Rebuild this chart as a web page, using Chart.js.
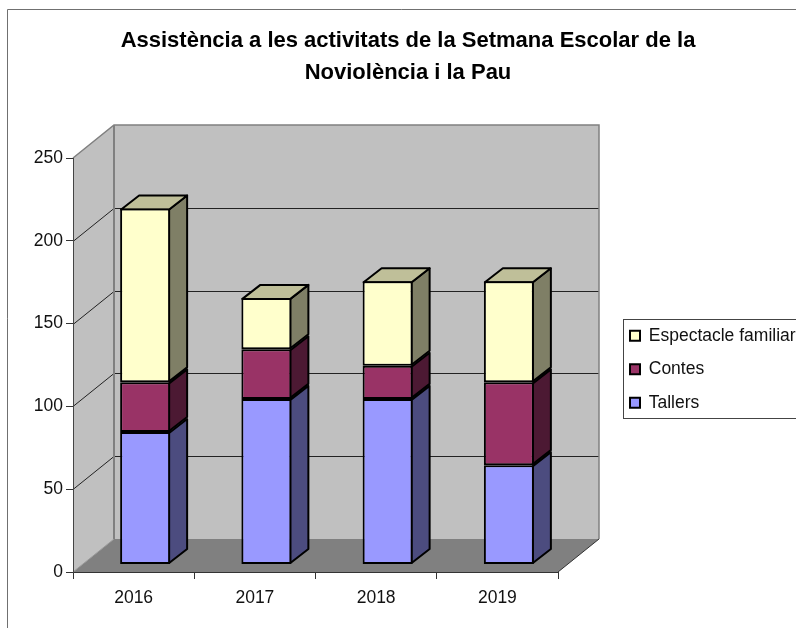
<!DOCTYPE html>
<html><head><meta charset="utf-8">
<style>html,body{margin:0;padding:0;background:#fff}canvas{display:block}</style>
<script src="https://cdn.jsdelivr.net/npm/chart.js@4"></script>
</head><body><canvas id="c" width="796" height="628"></canvas>
<script>
const years = ['2016','2017','2018','2019'];
const tallers = [80,100,100,60];
const contes = [30,30,20,50];
const espectacle = [105,31,51,61];
const titleLines = ['Assistència a les activitats de la Setmana Escolar de la','Noviolència i la Pau'];
const FONT = '"Liberation Sans", Arial, sans-serif';
const DEPTH = {x:41, y:-33};
const BAR = {x:11.5, y:-7.5, dx:18, dy:-14};
const sideColors = ['#4C4C7F','#4C1933','#7F7F66'];
const topColor = '#BFBF99';

function poly(ctx, pts, fill, stroke, lw){
  ctx.beginPath();
  pts.forEach((p,i)=> i?ctx.lineTo(p[0],p[1]):ctx.moveTo(p[0],p[1]));
  ctx.closePath();
  if(fill){ctx.fillStyle=fill;ctx.fill();}
  if(stroke){ctx.strokeStyle=stroke;ctx.lineWidth=lw;ctx.stroke();}
}
function line(ctx, pts, color, lw){
  ctx.beginPath();
  pts.forEach((p,i)=> i?ctx.lineTo(p[0],p[1]):ctx.moveTo(p[0],p[1]));
  ctx.strokeStyle=color;ctx.lineWidth=lw;ctx.stroke();
}
const scene = {
  id:'scene',
  afterLayout(chart){
    const t = chart.titleBlock; t.left = 20; t.right = 796;
    const l = chart.legend; const w=l.width,h=l.height;
    l.left = 614; l.top = 311; l.right = 614+w; l.bottom = 311+h;
  },
  beforeDraw(chart){
    const {ctx, chartArea:a, scales:{y}} = chart;
    ctx.save();
    ctx.fillStyle='#fff';ctx.fillRect(0,0,796,628);
    line(ctx,[[7.5,628],[7.5,9.5],[796,9.5]],'#707070',1);
    const L=a.left,R=a.right,T=y.getPixelForValue(250),B=y.getPixelForValue(0);
    const dx=DEPTH.x,dy=DEPTH.y;
    // walls
    poly(ctx,[[L,T],[L+dx,T+dy],[L+dx,B+dy],[L,B]],'#c0c0c0');
    poly(ctx,[[L+dx,T+dy],[R+dx,T+dy],[R+dx,B+dy],[L+dx,B+dy]],'#c0c0c0');
    poly(ctx,[[L,B],[L+dx,B+dy],[R+dx,B+dy],[R,B]],'#808080');
    // gridlines from the value scale
    y.ticks.forEach(tk=>{
      if(tk.value===0||tk.value===250) return;
      const p=Math.round(y.getPixelForValue(tk.value))+.5;
      line(ctx,[[L,p],[L+dx,p+dy],[R+dx,p+dy]],'#222',1);
    });
    line(ctx,[[L,T],[L+dx,T+dy],[R+dx,T+dy],[R+dx,B+dy]],'#808080',1.5);
    line(ctx,[[L+dx,T+dy],[L+dx,B+dy]],'#808080',2);
    line(ctx,[[L,B],[L+dx,B+dy]],'#999',1);
    line(ctx,[[R,B],[R+dx,B+dy]],'#333',1);
    // legend frame
    ctx.fillStyle='#fff';
    ctx.fillRect(623,319,173,99);
    ctx.strokeStyle='#444';ctx.lineWidth=1;
    ctx.strokeRect(623.5,319.5,173,99);
    ctx.restore();
  },
  beforeDatasetsDraw(chart){
    const {ctx} = chart;
    const lastIdx = chart.data.datasets.length-1;
    ctx.save();
    ctx.translate(BAR.x,BAR.y);
    ctx.lineJoin='round';
    chart.data.datasets.forEach((ds,di)=>{
      chart.getDatasetMeta(di).data.forEach(el=>{
        const p=el.getProps(['x','y','base','width'],true);
        const x2=p.x+p.width/2-1, x1=p.x-p.width/2+1;
        poly(ctx,[[x2,p.y+1],[x2+BAR.dx,p.y+1+BAR.dy],[x2+BAR.dx,p.base-1+BAR.dy],[x2,p.base-1]],sideColors[di],'#000',2);
        if(di===lastIdx){
          poly(ctx,[[x1,p.y+1],[x1+BAR.dx,p.y+1+BAR.dy],[x2+BAR.dx,p.y+1+BAR.dy],[x2,p.y+1]],topColor,'#000',2);
        }
      });
    });
  },
  afterDatasetsDraw(chart){ chart.ctx.restore(); }
};
const bar = (label,data,color)=>({label,data,backgroundColor:color,borderColor:'#000',borderWidth:2,borderSkipped:false,clip:false});
new Chart(document.getElementById('c'),{
  type:'bar',
  data:{labels:years,datasets:[
    bar('Tallers',tallers,'#9999FF'),
    bar('Contes',contes,'#993366'),
    bar('Espectacle familiar',espectacle,'#FFFFCC')
  ]},
  plugins:[scene],
  options:{
    responsive:false,animation:false,
    layout:{padding:{left:0,right:238,top:0,bottom:0}},
    barPercentage:1,categoryPercentage:50/121.25,
    plugins:{
      tooltip:{enabled:false},
      title:{display:true,text:titleLines,color:'#000',font:{family:FONT,size:22,weight:'bold',lineHeight:32/22},padding:{top:25,bottom:69}},
      legend:{display:true,position:'chartArea',align:'start',reverse:true,
        labels:{color:'#111',font:{family:FONT,size:17.5},boxWidth:10,boxHeight:10,padding:16}}
    },
    scales:{
      x:{stacked:true,
        afterFit(s){s.height=56;},
        border:{color:'#333',width:1},
        grid:{drawOnChartArea:false,color:'#333',tickLength:7,offset:true},
        ticks:{color:'#111',font:{family:FONT,size:17.5},padding:9,maxRotation:0}},
      y:{stacked:true,min:0,max:250,
        afterFit(s){s.width=73;},
        border:{color:'#444',width:1},
        grid:{drawOnChartArea:false,color:'#333',tickLength:7},
        ticks:{stepSize:50,color:'#111',font:{family:FONT,size:17.5},padding:3}}
    }
  }
});
</script></body></html>
